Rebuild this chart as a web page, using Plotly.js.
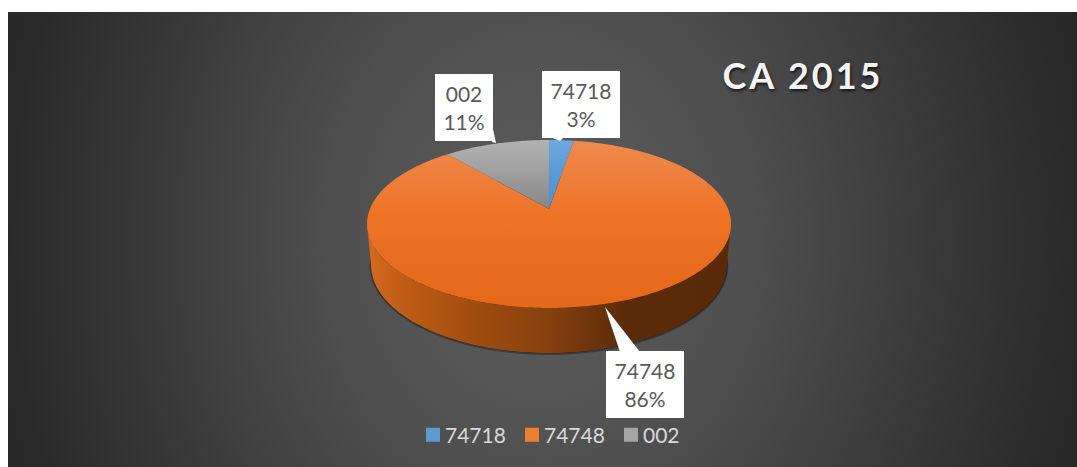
<!DOCTYPE html>
<html><head><meta charset="utf-8">
<script src="https://cdn.plot.ly/plotly-3.0.1.min.js"></script>
<style>
html,body{margin:0;padding:0;background:#fff;overflow:hidden}
#wrap{position:relative;width:1077px;height:467px}
#bg{position:absolute;left:8px;top:12px;width:1069px;height:455px;
 background:radial-gradient(ellipse 540px 650px at 532px 228px,#5e5e5e 0%,#4e4e4e 40%,#3a3a3a 72%,#2a2a2a 98%,#262626 120%)}
#chart{position:absolute;left:0;top:0;width:1077px;height:467px}
.gtitle{letter-spacing:3px}
</style></head><body>
<div id="wrap"><div id="bg"></div><div id="chart"></div></div>
<script>
var categories = ['74718', '74748', '002'];
var values = [2.7, 85.9, 11.4];
var percentLabels = ['3%', '86%', '11%'];
var topColors = ['#6FA8DE', '#EE8A50', '#B2B2B2'];
var midColors = ['#5B9BD5', '#EF7324', '#A0A0A0'];
var bottomColors = ['#4A90D2', '#E4671A', '#858585'];
var swatchColors = ['#5B9BD5', '#ED7D31', '#A5A5A5'];

var W = 1077, H = 467;
var cx = 549, cy = 224, rx = 182, ry = 84;   // top-face ellipse, pixels
var apexDrop = 15;                            // perspective shift of the pie centre
var tilt = 0.47;
var apexY = apexDrop / ry;

function rimPoint(deg) {
  var a = deg * Math.PI / 180;
  var dx = Math.sin(a), dy = tilt * Math.cos(a) * rx / ry;
  var A = dx * dx + dy * dy, B = apexY * dy, C = apexY * apexY - 1;
  var t = (-2 * B + Math.sqrt(4 * B * B - 4 * A * C)) / (2 * A);
  return [t * dx, apexY + t * dy];
}
function ellipse(from, to, sx, sy, oy) {
  var pts = [], n = 120;
  for (var i = 0; i <= n; i++) {
    var t = (from + (to - from) * i / n) * Math.PI / 180;
    pts.push([sx * Math.cos(t), oy + sy * Math.sin(t)]);
  }
  return pts;
}
function trace(pts, fill) {
  return Object.assign({
    type: 'scatter', mode: 'none', x: pts.map(function(p){return p[0];}), y: pts.map(function(p){return p[1];}),
    fill: 'toself', hoverinfo: 'skip', showlegend: false
  }, fill);
}

var traces = [];
// soft shadow under the pie
[[0.985, 1.06, -0.50, 'rgba(0,0,0,0.30)'], [0.98, 1.05, -0.49, 'rgba(0,0,0,0.45)']].forEach(function(s){
  traces.push(trace(ellipse(0, 360, s[0], s[1], s[2]), {fillcolor: s[3]}));
});
// side wall
var wallDrop = -41 / ry, wallRx = 178 / rx, wallRy = 88 / ry;
var wall = ellipse(180, 360, 1, 1, 0).concat(ellipse(360, 180, wallRx, wallRy, wallDrop));
traces.push(trace(wall, {fillgradient: {type: 'horizontal', colorscale: [
  [0, '#D46A1F'], [0.12, '#BC5B14'], [0.3, '#A04C10'], [0.5, '#85400E'], [0.7, '#5C2C0A'], [1, '#5A2A08']
]}}));
// top face slices, driven by the values
var total = values.reduce(function(a, b){return a + b;}, 0), start = 0;
values.forEach(function(v, i) {
  var end = start + v / total * 360, pts = [[0, apexY]];
  for (var d = start; d < end; d += 1) pts.push(rimPoint(d));
  pts.push(rimPoint(end)); pts.push([0, apexY]);
  traces.push(trace(pts, {fillgradient: {type: 'vertical', colorscale: [[0, bottomColors[i]], [0.55, midColors[i]], [1, topColors[i]]]}}));
  start = end;
});
// legend entries
categories.forEach(function(c, i) {
  traces.push({type: 'scatter', mode: 'markers', x: [null], y: [null], name: c, hoverinfo: 'skip',
    marker: {symbol: 'square', size: 14, color: swatchColors[i]}});
});

function px(x){return x / W;}
function py(y){return 1 - y / H;}
function pointer(list) {
  return {type: 'path', xref: 'paper', yref: 'paper', fillcolor: '#fff', line: {width: 0}, layer: 'above',
    path: 'M' + list.map(function(p){return px(p[0]) + ',' + py(p[1]);}).join('L') + 'Z'};
}
var labelBoxes = [[542, 71, 78, 67], [606, 351, 78, 67], [435, 74, 58, 67]];
var annotations = categories.map(function(c, i) {
  var b = labelBoxes[i];
  return {xref: 'paper', yref: 'paper', x: px(b[0] + b[2] / 2), y: py(b[1] + b[3] / 2), xanchor: 'center', yanchor: 'middle',
    width: b[2], height: b[3], bgcolor: '#fff', borderpad: 0, borderwidth: 0, showarrow: false, align: 'center', valign: 'middle',
    text: c + '<br>' + percentLabels[i], font: {family: 'Lato', size: 21, color: '#595959'}};
});

var layout = {
  width: W, height: H, margin: {l: 0, r: 0, t: 0, b: 0}, autosize: false,
  paper_bgcolor: 'rgba(0,0,0,0)', plot_bgcolor: 'rgba(0,0,0,0)',
  xaxis: {visible: false, fixedrange: true, range: [-cx / rx, (W - cx) / rx]},
  yaxis: {visible: false, fixedrange: true, range: [(cy - H) / ry, cy / ry]},
  title: {text: '<b>CA 2015</b>', x: 803 / W, xanchor: 'center', xref: 'paper', y: py(76), yref: 'paper', yanchor: 'middle',
    font: {family: 'Lato', size: 36, color: '#F4F4F4', shadow: '1px 2px 3px rgba(0,0,0,0.7)'}},
  showlegend: true,
  legend: {orientation: 'h', xref: 'paper', yref: 'paper', x: 413 / W, y: py(435), xanchor: 'left', yanchor: 'middle',
    entrywidth: 54, entrywidthmode: 'pixels', bgcolor: 'rgba(0,0,0,0)', traceorder: 'normal',
    font: {family: 'Lato', size: 21, color: '#D9D9D9'}},
  shapes: [
    pointer([[605, 307], [620, 352], [640, 352]]),
    pointer([[491, 120], [496, 143], [492, 142]]),
    pointer([[550, 137], [560, 141], [564, 137]])
  ],
  annotations: annotations
};
Plotly.newPlot('chart', traces, layout, {displayModeBar: false, staticPlot: true}).then(function(gd) {
  gd.querySelectorAll('.legendtext').forEach(function(t){ t.setAttribute('x', +t.getAttribute('x') - 8); });
});
</script></body></html>
